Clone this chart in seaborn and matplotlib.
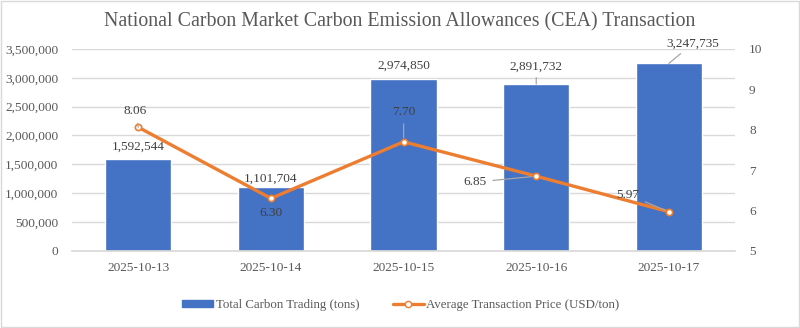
import numpy as np
import pandas as pd
import matplotlib
matplotlib.use("Agg")
import matplotlib.pyplot as plt
from matplotlib.ticker import FuncFormatter, FixedLocator
import seaborn as sns

dates = ["2025-10-13", "2025-10-14", "2025-10-15", "2025-10-16", "2025-10-17"]
volume = [1592544, 1101704, 2974850, 2891732, 3247735]
price = [8.06, 6.30, 7.70, 6.85, 5.97]
title = "National Carbon Market Carbon Emission Allowances (CEA) Transaction"
bar_label = "Total Carbon Trading (tons)"
line_label = "Average Transaction Price (USD/ton)"

BLUE = "#4472C4"
ORANGE = "#ED7D31"
TXT = "#595959"
GRID = "#D9D9D9"
LEAD = "#A6A6A6"

sns.set_theme(style="white")
plt.rcParams["font.family"] = ["Liberation Serif", "DejaVu Serif"]

df = pd.DataFrame({"date": dates, "volume": volume, "price": price})

fig = plt.figure(figsize=(8, 3.28), dpi=100)
ax = fig.add_axes([0.09, 0.235, 0.829, 0.616])
ax.set_zorder(1)

sns.barplot(data=df, x="date", y="volume", color=BLUE, width=0.5,
            saturation=1, ax=ax, zorder=2)
ax.set_ylim(0, 3500000)
ax.set_yticks(np.arange(0, 3500001, 500000))
ax.yaxis.set_major_formatter(FuncFormatter(lambda v, p: f"{v:,.0f}"))
ax.grid(axis="y", color=GRID, linewidth=1, zorder=0)
ax.set_axisbelow(True)
ax.set_xlim(-0.5, len(dates) - 0.5)
for s in ["top", "left", "right"]:
    ax.spines[s].set_visible(False)
ax.spines["bottom"].set_color(GRID)
ax.set_xlabel("")
ax.set_ylabel("")
ax.tick_params(axis="both", which="major", length=0, labelsize=9.6, labelcolor=TXT)
ax.tick_params(axis="x", pad=8)
ax.tick_params(axis="y", pad=10)
ax.xaxis.set_minor_locator(FixedLocator(np.arange(-0.5, len(dates), 1.0)))
ax.tick_params(axis="x", which="minor", length=4, color=GRID, width=1)

ax2 = ax.twinx()
ax2.set_zorder(2)
sns.pointplot(data=df, x="date", y="price", color=ORANGE, errorbar=None,
              markers="o", linewidth=2.4, markersize=4.5,
              markerfacecolor="white", markeredgecolor=ORANGE,
              markeredgewidth=1.2, ax=ax2)
ax2.set_ylim(5, 10)
ax2.set_yticks(np.arange(5, 11, 1))
ax2.set_xlim(-0.5, len(dates) - 0.5)
for s in ["top", "left", "right", "bottom"]:
    ax2.spines[s].set_visible(False)
ax2.set_ylabel("")
ax2.set_xlabel("")
ax2.tick_params(axis="y", length=0, labelsize=9.6, labelcolor=TXT, pad=10)
ax2.grid(False)

# bar value labels (offsets in pixels relative to bar top)
bar_offsets = [(0, 12, False), (0, 9, False), (0, 13, False), (0, 17, True), (24, 20, True)]
for i, (v, (dx, dy, lead)) in enumerate(zip(volume, bar_offsets)):
    kw = {}
    if lead:
        kw["arrowprops"] = dict(arrowstyle="-", color=LEAD, lw=0.9, shrinkA=1, shrinkB=0)
    ax.annotate(f"{v:,.0f}", xy=(i, v), xytext=(dx, dy), textcoords="offset pixels",
                ha="center", va="center", fontsize=9.5, color="#404040", **kw)

# price labels
price_offsets = [(-3, 16, True), (0, -15, False), (0, 30, True), (-61, -6, True), (-41, 17, True)]
for i, (v, (dx, dy, lead)) in enumerate(zip(price, price_offsets)):
    kw = {}
    if lead:
        kw["arrowprops"] = dict(arrowstyle="-", color=LEAD, lw=0.9, shrinkA=2, shrinkB=3)
    ax2.annotate(f"{v:.2f}", xy=(i, v), xytext=(dx, dy), textcoords="offset pixels",
                 ha="center", va="center", fontsize=9.5, color="#404040", zorder=5, **kw)

fig.text(0.5, 0.933, title, ha="center", va="center", fontsize=14.3, color=TXT)

h1 = plt.Rectangle((0, 0), 1, 1, color=BLUE)
h2 = plt.Line2D([], [], color=ORANGE, lw=2.4, marker="o", markersize=4.5,
                markerfacecolor="white", markeredgecolor=ORANGE)
leg = fig.legend([h1, h2], [bar_label, line_label], loc="center",
                 bbox_to_anchor=(0.501, 0.07), ncol=2, frameon=False,
                 fontsize=9.3, handlelength=2.4, handleheight=0.45,
                 handletextpad=0.2, columnspacing=2.6, labelcolor=TXT)

fig.patches.append(plt.Rectangle((0.001, 0.002), 0.998, 0.996, transform=fig.transFigure,
                                 fill=False, edgecolor=GRID, lw=1))

fig.savefig("out.png", dpi=100)
